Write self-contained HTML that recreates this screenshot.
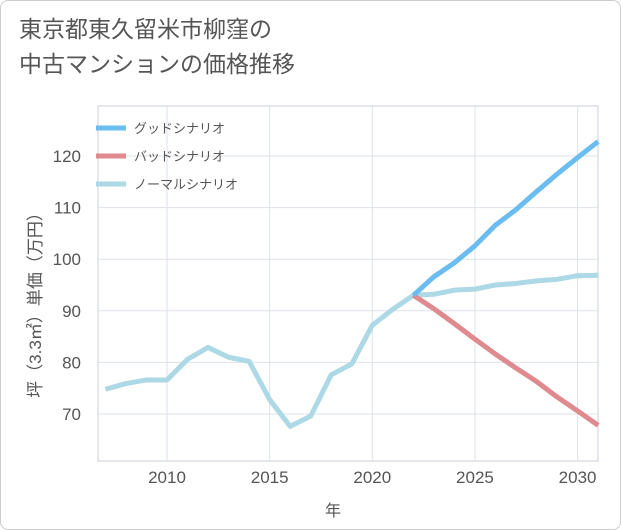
<!DOCTYPE html>
<html><head><meta charset="utf-8"><style>
body{margin:0;background:#fff;font-family:"Liberation Sans","Noto Sans CJK JP",sans-serif;}
#wrap{position:relative;width:619px;height:528px;border:1px solid #ccc;border-radius:8px;overflow:hidden;background:#fff}
#title{position:absolute;left:18px;top:11px;font-size:23px;line-height:35px;color:#555;}
svg{position:absolute;left:0;top:0}
</style></head><body>
<div id="wrap">
<div id="title">東京都東久留米市柳窪の<br>中古マンションの価格推移</div>
<svg id="c" width="621" height="530"></svg>
</div>
<script>
const years=[2007,2008,2009,2010,2011,2012,2013,2014,2015,2016,2017,2018,2019,2020,2021,2022,2023,2024,2025,2026,2027,2028,2029,2030,2031];
const normal=[74.8,75.9,76.6,76.6,80.6,82.9,81,80.2,72.8,67.6,69.6,77.6,79.7,87.2,90.3,93,93.2,94,94.2,95,95.3,95.8,96.1,96.8,96.9];
const goodYears=[2022,2023,2024,2025,2026,2027,2028,2029,2030,2031];
const good=[93,96.6,99.3,102.6,106.6,109.6,113.1,116.5,119.7,122.8];
const bad=[93,90.4,87.5,84.5,81.6,78.9,76.3,73.3,70.6,67.8];
const xTicks=[2010,2015,2020,2025,2030];
const yTicks=[70,80,90,100,110,120];
const L=97,R=597,T=105,B=460;
const x=v=>166+(v-2010)*20.53;
const y=v=>413-(v-70)*5.16;
const svg=document.getElementById('c');const NS='http://www.w3.org/2000/svg';
function mk(t,a,p){const e=document.createElementNS(NS,t);for(const k in a)e.setAttribute(k,a[k]);(p||svg).appendChild(e);return e;}
let r=mk('rect',{x:L,y:T,width:R-L,height:B-T,fill:'none',stroke:'#ccd',"stroke-width":1});


xTicks.forEach(v=>{
 let l=mk('line',{x1:x(v),x2:x(v),y1:T,y2:B,stroke:'#dde3ea'});
 
 
 let t=mk('text',{x:x(v),y:B+22,'text-anchor':'middle','font-size':17,fill:'#555'});t.textContent=v;
 
 
});
yTicks.forEach(v=>{
 let l=mk('line',{x1:L,x2:R,y1:y(v),y2:y(v),stroke:'#dde3ea'});
 
 
 let t=mk('text',{x:L-17,y:y(v)+6,'text-anchor':'end','font-size':17,fill:'#555'});t.textContent=v;
 
 
});
function line(xs,vs,col,name){
 let p=mk('polyline',{points:xs.map((v,i)=>x(v)+','+y(vs[i])).join(' '),fill:'none',stroke:col,'stroke-width':5,'stroke-linejoin':'round'});
 
 
}
line(years,normal,'#add8e6','normal-scenario-line');
line(goodYears,bad,'#de8a8f','bad-scenario-line');
line(goodYears,good,'#6bbcf0','good-scenario-line');
const leg=[['グッドシナリオ','#6bbcf0'],['バッドシナリオ','#de8a8f'],['ノーマルシナリオ','#add8e6']];
leg.forEach((d,i)=>{
 let l=mk('line',{x1:95,x2:125,y1:127+i*28,y2:127+i*28,stroke:d[1],'stroke-width':5});
 
 
 let t=mk('text',{x:133,y:132+i*28,'font-size':13,fill:'#555'});t.textContent=d[0];
 
 
});
let xt=mk('text',{x:332,y:515,'text-anchor':'middle','font-size':16,fill:'#555'});xt.textContent='年';


let yt=mk('text',{x:0,y:0,'text-anchor':'middle','font-size':17,fill:'#555',transform:'translate(40,300) rotate(-90)'});yt.textContent='坪（3.3㎡）単価（万円）';


</script>
</body></html>
